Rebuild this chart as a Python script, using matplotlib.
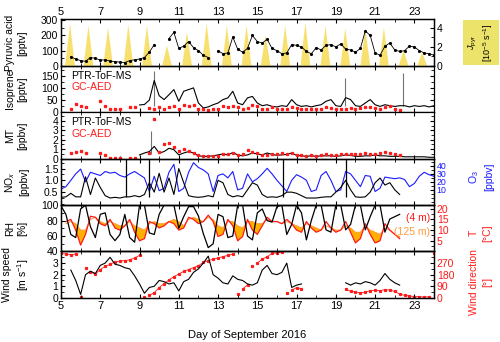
import numpy as np
import matplotlib
matplotlib.use("Agg")
import matplotlib.pyplot as plt
from matplotlib.ticker import MultipleLocator

plt.rcParams['font.family'] = ['Liberation Sans', 'DejaVu Sans']
plt.rcParams['mathtext.fontset'] = 'custom'
plt.rcParams['mathtext.rm'] = 'Liberation Sans'
plt.rcParams['mathtext.it'] = 'Liberation Sans:italic'

nan = np.nan
# time grid, day of September 2016 (every 6 h)
t = np.arange(5, 24.001, 0.25)

# pyruvic acid [pptv]
pyr = [nan, nan, 60, 45, 35, 30, 55, 50, 38, 40, 32, 28, 25, 22, 35, 40,
       45, 55, 90, 140, nan, nan, 180, 220, 115, 130, 160, 120, 100, 70, 55, nan,
       100, 80, 85, 190, 110, 90, 115, 200, 160, 150, 175, 115, 100, 80, 85, 140,
       135, 125, 95, 80, 120, 105, 135, 140, 125, 145, 110, 105, 90, 115, 230, 200,
       85, 70, 130, 150, 105, 95, 100, 130, 125, 100, 85, 80, 70]
# J_pyr daily peaks [1e-5 s-1]
jpyr_rise = [5.21, 6.15, 7.15, 8.18, 9.13, 10.15, 11.17, 12.17, 13.2, 14.2,
             15.17, 16.17, 17.2, 18.22, 19.23, 20.25, 21.2, 22.2, 23.15]
jpyr_noon = [5.46, 6.4, 7.4, 8.43, 9.38, 10.4, 11.42, 12.42, 13.45, 14.45,
             15.42, 16.42, 17.45, 18.47, 19.48, 20.5, 21.45, 22.45, 23.4]
jpyr_set = [5.71, 6.65, 7.65, 8.68, 9.63, 10.65, 11.67, 12.67, 13.7, 14.7,
            15.67, 16.67, 17.7, 18.72, 19.73, 20.75, 21.7, 22.7, 23.65]
jpyr_peak = [4.4, 4.2, 4.0, 4.3, 4.2, 2.1, 3.5, 4.4, 4.2, 4.2,
             3.2, 4.2, 4.5, 4.2, 3.9, 3.9, 4.0, 1.6, 1.4]

# isoprene [pptv]
iso_ptr = [nan]*16 + [30, 32, 50, 130, 68, 52, 72, 93, 45, 86, 93, 100, 38, 18, 22, 31,
       38, 52, 59, 86, 38, 31, 59, 65, 38, 27, 31, 24, 22, 27, 24, 52,
       31, 24, 27, 22, 27, 31, 45, 52, 27, 24, 60, 52, 27, 24, 38, 52,
       31, 24, 31, 27, 24, 27, 27, 22, 27, 24, 27, 22, 27]
iso_gc = [nan, nan, 15, 35, 25, 20, nan, nan, 45, 25, 12, 15, 15, nan, 20, 20,
          nan, nan, 18, 15, 20, 12, 20, 25, 15, 30, 25, 30, 15, 12, 10, 12,
          15, 25, 20, 25, 20, 15, 18, 30, 25, 15, 12, 20, 15, 15, 12, 22,
          18, 15, 12, 15, 12, 15, 20, 18, 15, 12, 15, 18, 15, 18, 20, 22,
          18, 15, 20, 25, 15, 10, nan, nan, nan, nan, nan, nan, nan]
iso_spike_day = [9.75, 19.45, 22.4]
iso_spike_val = [170, 140, 160]

# monoterpenes [ppbv]
mt_ptr = [nan]*16 + [0.4, 0.6, 0.75, 1.3, 0.6, 0.75, 1.1, 0.95, 0.4, 0.6, 0.75, 0.6,
          0.3, 0.25, 0.25, 0.3, 0.4, 0.5, 0.4, 0.65, 0.4, 0.3, 0.4, 0.6,
          0.5, 0.4, 0.6, 0.45, 0.35, 0.4, 0.45, 0.6, 0.35, 0.3, 0.25, 0.3,
          0.25, 0.3, 0.3, 0.3, 0.25, 0.3, 0.4, 0.35, 0.25, 0.25, 0.3, 0.3,
          0.4, 0.3, 0.3, 0.25, 0.25, 0.25, 0.2, 0.2, 0.2, 0.2, 0.2, 0.15, 0.15]
mt_gc = [nan, nan, 0.6, 0.75, 0.8, 0.6, nan, nan, 0.6, 0.4, 0.1, 0.1, 0.1, nan, 0.1, 0.1,
         nan, nan, 0.6, 4.2, 0.7, 1.6, 1.7, 1.2, 0.8, 1.0, 0.8, 0.6, 0.35, 0.3, 0.3, 0.3,
         0.3, 0.5, 0.5, 0.6, 0.4, 0.5, 0.9, 0.75, 0.6, 0.4, 0.4, 0.5, 0.5, 0.6, 0.5, 0.6,
         0.4, 0.35, 0.3, 0.4, 0.3, 0.4, 0.5, 0.4, 0.35, 0.5, 0.5, 0.5, 0.45, 0.5, 0.55, 0.5,
         0.5, 0.6, 0.7, 0.6, 0.5, 0.4, nan, nan, nan, nan, nan, nan, nan]
mt_spike_day = [9.6]
mt_spike_val = [2.9]

# NOx [ppbv] and O3 [ppbv]
nox = [0.28, 0.3, 0.45, 0.3, 0.3, 1.15, 0.4, 1.1, 0.7, 0.35, 0.25, 0.28, 0.25, 0.3, 0.3, 0.35,
       0.3, 0.4, 0.9, 0.5, 1.3, 0.5, 1.1, 0.4, 1.5, 0.9, 0.35, 0.3, 0.28, 0.3, 0.35, 0.3,
       1.0, 0.9, 0.4, 0.3, 0.35, 0.3, 0.6, 0.9, 0.8, 0.4, 0.28, 0.3, 0.28, 0.35, 0.5, 0.5,
       0.45, 0.35, 0.25, 0.25, 0.25, 0.28, 0.3, 0.3, 0.5, 0.7, 1.0, 0.6, 0.3, 0.28, 0.3, 0.5,
       0.9, 1.1, 0.8, 0.9, 0.6, 0.4, nan, nan, nan, nan, nan, nan, nan]
nox_spike_day = [8.3, 9.5, 16.3, 19.5]
o3 = [11, 14, 22, 30, 36, 20, 32, 30, 28, 33, 31, 32, 28, 26, 30, 33,
      29, 25, 8, 27, 9, 12, 32, 42, 8, 12, 32, 44, 38, 35, 30, 8,
      28, 30, 25, 33, 10, 12, 30, 20, 24, 30, 37, 30, 22, 15, 8, 22,
      29, 26, 22, 8, 10, 28, 33, 22, 8, 10, 33, 30, 22, 14, 28, 27,
      8, 12, 26, 25, 24, 25, 23, 14, 18, 27, 32, 29, 27]

# RH [%] and temperature [degC] at 4 m and 125 m
rh = [99, 88, 62, 58, 95, 100, 72, 58, 88, 90, 62, 54, 62, 88, 58, 52,
      100, 100, 64, 62, 88, 100, 100, 100, 70, 85, 98, 98, 86, 63, 45, 50,
      88, 85, 58, 60, 100, 100, 60, 55, 90, 95, 80, 78, 98, 100, 62, 75,
      100, 90, 55, 80, 100, 100, 68, 65, 100, 100, 68, 75, 100, 100, 68, 85,
      100, 100, 65, 82, 85, 88, nan, nan, nan, nan, nan, nan, nan]
t4 = [nan, 14, 15, 10, 3, 8, 16.5, 16, 13, 12, 15, 11, 10, 12, 15, 9,
      5, 6, 14, 13, 11, 12, 14, 13, 10, 11, 16, 15, 13, 14, 17, 14,
      7, 8, 15, 12, 5, 7, 15, 10, 8, 12, 16, 14, 14, 13, 15, 13,
      10, 9, 14, 11, 9, 10, 14, 11, 9, 10, 14, 9, 4, 6, 13, 8,
      4, 5, 13, 10, 8, 6, nan, nan, nan, nan, nan, nan, nan]
t125 = [nan, 13, 14, 13, 10, 10, 15, 16, 14, 13, 14, 13, 12, 12, 14, 12,
        11, 10, 13, 14, 13, 13, 14, 15, 14, 12, 15, 16, 15, 14, 16, 15,
        12, 11, 14, 14, 12, 11, 14, 14, 13, 13, 15, 14, 14, 13, 14, 13,
        12, 11, 13, 12, 11, 10, 12, 11, 10, 10, 12, 11, 9, 9, 12, 10,
        9, 8, 11, 10, 8, 7, nan, nan, nan, nan, nan, nan, nan]

# wind speed [m s-1] and wind direction [deg]
ws = [nan, nan, 2.4, 1.5, 0.3, 2.0, 2.3, 2.1, 2.8, 3.0, 3.5, 2.9, 2.8, 2.6, 2.5, 1.9,
      1.2, 0.4, 0.9, 1.0, 1.5, 1.4, 1.2, 1.3, 0.6, 1.4, 1.6, 2.2, 2.5, 3.0, 3.6, 2.0,
      1.7, 1.3, 1.2, 1.9, 1.6, 1.5, 1.2, 1.1, 1.3, 2.4, 2.8, 2.1, 2.0, 2.2, 3.0, 0.9,
      1.1, 1.2, nan, nan, nan, nan, nan, nan, nan, nan, 1.3, 1.1, 1.3, 1.2, 1.4, 1.3,
      1.1, 1.5, 2.1, 1.6, 1.3, 1.1, nan, nan, nan, nan, nan, nan, nan]
wd = [345, 340, 335, 340, 10, 230, 200, 185, 220, 245, 260, 280, 285, 290, 295, 310,
      330, 10, 20, 40, 80, 110, 140, 165, 185, 205, 220, 235, 250, 275, 290, 300,
      310, 320, 330, 340, 30, 70, 100, 250, 270, 300, 320, 345, 350, 355, 40, 60,
      80, 70, nan, nan, nan, nan, nan, nan, nan, nan, 70, 50, 45, 40, 45, 55,
      60, 55, 65, 60, 50, 30, 20, 15, 10, 10, 5, 10, 345]

red = '#ff1a1a'
blue = '#1a1aff'
fs = 7.5

fig = plt.figure(figsize=(5, 3.42), dpi=100)
axs = fig.subplots(6, 1, sharex=True)
fig.subplots_adjust(left=0.122, right=0.868, top=0.943, bottom=0.129, hspace=0)

for ax in axs:
    ax.set_xlim(5, 24)
    ax.xaxis.set_major_locator(MultipleLocator(2))
    ax.xaxis.set_minor_locator(MultipleLocator(1))
    ax.tick_params(which='both', direction='in', top=True, bottom=True,
                   labelbottom=False, labelsize=fs, length=3, pad=2)
    ax.tick_params(which='minor', length=2)
    ax.yaxis.set_label_coords(-0.12, 0.5)
axs[0].tick_params(axis='x', labeltop=True, labelsize=8)
axs[5].tick_params(axis='x', labelbottom=True, labelsize=8)
axs[0].set_xticks(np.arange(5, 24, 2))


def ylab(ax, s):
    ax.set_ylabel(s, fontsize=fs, linespacing=1.3, ha='center', va='center')


def rlab(ax, s, color, y=0.5):
    ax.text(1.125, y, s, transform=ax.transAxes, rotation=90, ha='center',
            va='center', color=color, fontsize=fs, linespacing=1.4)


# panel 1: pyruvic acid + J_pyr
ax = axs[0]
axj = ax.twinx()
for r, n, s, p in zip(jpyr_rise, jpyr_noon, jpyr_set, jpyr_peak):
    axj.fill([r, n, s], [0, p, 0], color='#f6d94a', alpha=0.8, lw=0)
axj.set_ylim(0, 4.84)
axj.yaxis.set_major_locator(MultipleLocator(2))
axj.yaxis.set_minor_locator(MultipleLocator(1))
axj.tick_params(which='both', direction='in', labelsize=fs, length=3, pad=2)
axj.tick_params(which='minor', length=2)
ax.set_zorder(axj.get_zorder() + 1)
ax.patch.set_visible(False)
ax.plot(t, pyr, color='k', lw=0.6, marker='.', ms=2.5)
ax.set_ylim(0, 305)
ax.yaxis.set_major_locator(MultipleLocator(100))
ax.yaxis.set_minor_locator(MultipleLocator(50))
ylab(ax, 'Pyruvic acid\n[pptv]')
fig.text(0.962, 0.875, '$\\mathit{J}_{\\rm pyr}$\n[10$^{-5}$ s$^{-1}$]', rotation=90,
         ha='center', va='center', fontsize=6.5, linespacing=1.3,
         bbox=dict(boxstyle='square,pad=0.35', fc='#ece36a', ec='none'))

# panel 2: isoprene
ax = axs[1]
ax.vlines(iso_spike_day, 25, iso_spike_val, color='0.45', lw=0.8)
ax.plot(t, iso_ptr, color='k', lw=0.8)
ax.plot(t, iso_gc, ls='none', marker='s', ms=1.4, color=red)
ax.set_ylim(0, 190)
ax.yaxis.set_major_locator(MultipleLocator(50))
ax.yaxis.set_minor_locator(MultipleLocator(25))
ax.tick_params(axis='y', which='both', right=True)
ylab(ax, 'Isoprene\n[pptv]')
ax.text(0.027, 0.78, 'PTR-ToF-MS', transform=ax.transAxes, fontsize=fs, va='center')
ax.text(0.027, 0.54, 'GC-AED', transform=ax.transAxes, fontsize=fs, va='center', color=red)

# panel 3: monoterpenes
ax = axs[2]
ax.vlines(mt_spike_day, 0.5, mt_spike_val, color='0.45', lw=0.8)
ax.plot(t, mt_ptr, color='k', lw=0.8)
ax.plot(t, mt_gc, ls='none', marker='s', ms=1.4, color=red)
ax.set_ylim(0, 4.9)
ax.yaxis.set_major_locator(MultipleLocator(1))
ax.yaxis.set_minor_locator(MultipleLocator(0.5))
ax.tick_params(axis='y', which='both', right=True)
ylab(ax, 'MT\n[ppbv]')
ax.text(0.027, 0.78, 'PTR-ToF-MS', transform=ax.transAxes, fontsize=fs, va='center')
ax.text(0.027, 0.54, 'GC-AED', transform=ax.transAxes, fontsize=fs, va='center', color=red)

# panel 4: NOx + O3
ax = axs[3]
axo = ax.twinx()
axo.plot(t, o3, color=blue, lw=0.8)
axo.set_ylim(-9, 49)
axo.set_yticks([10, 20, 30, 40])
axo.yaxis.set_minor_locator(MultipleLocator(5))
axo.tick_params(which='both', direction='in', labelsize=6.3, labelcolor=blue, length=3, pad=2)
axo.tick_params(which='minor', length=2)
rlab(ax, 'O$_3$\n[ppbv]', blue, 0.6)
ax.set_zorder(axo.get_zorder() + 1)
ax.patch.set_visible(False)
ax.plot(t, nox, color='k', lw=0.8)
ax.vlines(nox_spike_day, 0.3, 2.0, color='k', lw=0.9)
ax.set_ylim(-0.05, 1.92)
ax.set_yticks([0.5, 1.0, 1.5])
ax.set_yticklabels(['0.5', '1.0', '1.5'])
ax.yaxis.set_minor_locator(MultipleLocator(0.25))
ylab(ax, 'NO$_x$\n[ppbv]')

# panel 5: RH + T
ax = axs[4]
axt = ax.twinx()
t4a = np.array(t4, float)
t125a = np.array(t125, float)
axt.fill_between(t, t4a, t125a, where=t125a > t4a, color='#ffb000', lw=0, interpolate=True)
axt.plot(t, t125, color='#ff9a3c', lw=0.7)
axt.plot(t, t4, color=red, lw=0.9)
axt.set_ylim(0, 21.7)
axt.set_yticks([5, 10, 15, 20])
axt.yaxis.set_minor_locator(MultipleLocator(2.5))
axt.tick_params(which='both', direction='in', labelsize=fs, labelcolor=red, length=3, pad=2)
axt.tick_params(which='minor', length=2)
rlab(ax, 'T\n[°C]', red, 0.4)
ax.plot(t, rh, color='k', lw=0.9)
ax.set_zorder(axt.get_zorder() + 1)
ax.patch.set_visible(False)
ax.set_ylim(40, 100)
ax.yaxis.set_major_locator(MultipleLocator(20))
ax.yaxis.set_minor_locator(MultipleLocator(10))
ylab(ax, 'RH\n[%]')
ax.text(0.99, 0.72, '(4 m)', transform=ax.transAxes, fontsize=fs, color=red, ha='right', va='center')
ax.text(0.99, 0.43, '(125 m)', transform=ax.transAxes, fontsize=fs, color='#ff9a3c', ha='right', va='center')

# panel 6: wind speed + direction
ax = axs[5]
axw = ax.twinx()
wda = np.array(wd, float)
wd_line = np.ma.masked_invalid(wda)
jump = np.abs(np.diff(wda, prepend=wda[0])) > 120
wd_line[jump] = np.ma.masked
axw.plot(t, wd_line, color=red, lw=0.6)
axw.plot(t, wd, ls='none', marker='s', ms=1.3, color=red)
axw.set_ylim(0, 360)
axw.set_yticks([0, 90, 180, 270])
axw.yaxis.set_minor_locator(MultipleLocator(45))
axw.tick_params(which='both', direction='in', labelsize=fs, labelcolor=red, length=3, pad=2)
axw.tick_params(which='minor', length=2)
rlab(ax, 'Wind direction\n[°]', red, 0.35)
ax.set_zorder(axw.get_zorder() + 1)
ax.patch.set_visible(False)
ax.plot(t, ws, color='k', lw=0.8)
ax.set_ylim(0, 4)
ax.set_yticks([0, 1, 2, 3])
ax.yaxis.set_minor_locator(MultipleLocator(0.5))
ylab(ax, 'Wind speed\n[m s$^{-1}$]')
ax.set_xlabel('Day of September 2016', fontsize=8, labelpad=14)

for a in fig.axes:
    for sp in a.spines.values():
        sp.set_linewidth(0.9)

fig.savefig('out.png', dpi=100)
